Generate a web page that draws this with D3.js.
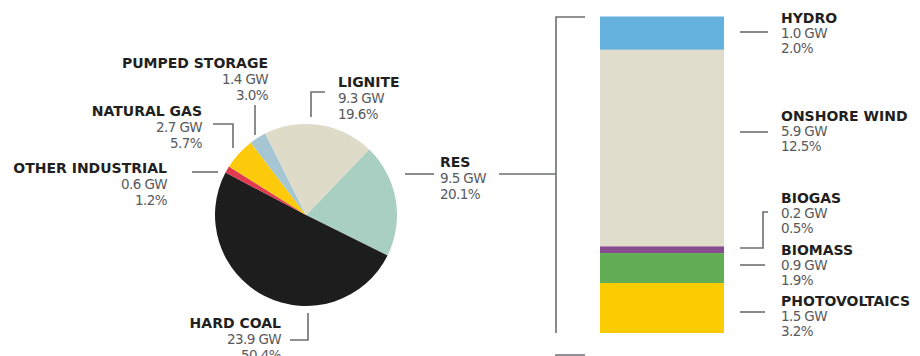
<!DOCTYPE html>
<html>
<head>
<meta charset="utf-8">
<script src="https://cdn.jsdelivr.net/npm/d3@7"></script>
<style>
  html, body { margin: 0; padding: 0; background: #fff; }
  svg { display: block; }
  .lbl { font-family: "DejaVu Sans", sans-serif; font-weight: bold; font-size: 14px; fill: #231f20; letter-spacing: 0px; }
  .val { font-family: "DejaVu Sans", sans-serif; font-size: 13.5px; fill: #58595b; letter-spacing: -0.6px; }
  .conn { fill: none; stroke: #6d6e70; stroke-width: 1.6; }
</style>
</head>
<body>
<svg id="chart" width="920" height="356"></svg>
<script>
// ---- data ----
const pieLabels = ["RES", "HARD COAL", "OTHER INDUSTRIAL", "NATURAL GAS", "PUMPED STORAGE", "LIGNITE"];
const pieGW     = [9.5, 23.9, 0.6, 2.7, 1.4, 9.3];
const piePct    = [20.1, 50.4, 1.2, 5.7, 3.0, 19.6];
const pieColors = ["#a9cfc3", "#1e1d1d", "#e23a4e", "#fdcb0b", "#a6c6d3", "#dfdbc9"];

const resLabels = ["HYDRO", "ONSHORE WIND", "BIOGAS", "BIOMASS", "PHOTOVOLTAICS"];
const resGW     = [1.0, 5.9, 0.2, 0.9, 1.5];
const resPct    = [2.0, 12.5, 0.5, 1.9, 3.2];
const resColors = ["#64b1de", "#e0ddcc", "#874d8e", "#63ae55", "#fccc02"];

// ---- layout ----
const svg = d3.select("#chart");
const cx = 306, cy = 215, R = 91;
const fmtGW = v => v.toFixed(1) + " GW";
const fmtPct = v => v.toFixed(1) + "%";

// pie
const pie = d3.pie().sort(null).value(d => d.pct)
  .startAngle(44 * Math.PI / 180).endAngle(44 * Math.PI / 180 + 2 * Math.PI);
const arc = d3.arc().innerRadius(0).outerRadius(R);
const pieData = pieLabels.map((l, i) => ({label: l, gw: pieGW[i], pct: piePct[i], color: pieColors[i]}));
svg.append("g").attr("transform", `translate(${cx},${cy})`)
  .selectAll("path").data(pie(pieData)).join("path")
  .attr("d", arc).attr("fill", d => d.data.color);

// pie labels: anchor x, first baseline y, text-anchor, connector path
const pieLayout = {
  "RES":              {x: 440, y: 167, anchor: "start", conn: [[[405,174],[434,174]], [[499,174],[556,174]]]},
  "HARD COAL":        {x: 281, y: 328, anchor: "end",   conn: [[[290,340],[308,340],[308,313]]]},
  "OTHER INDUSTRIAL": {x: 167, y: 173, anchor: "end",   conn: [[[192,172],[218,172]]]},
  "NATURAL GAS":      {x: 202, y: 116, anchor: "end",   conn: [[[213,124],[233,124],[233,148]]]},
  "PUMPED STORAGE":   {x: 268, y: 68,  anchor: "end",   conn: [[[255,105],[255,135]]]},
  "LIGNITE":          {x: 338, y: 87,  anchor: "start", conn: [[[325,92],[311,92],[311,117]]]}
};
const line = d3.line();
pieData.forEach(d => {
  const L = pieLayout[d.label];
  const g = svg.append("g");
  L.conn.forEach(p => g.append("path").attr("class", "conn").attr("d", line(p)));
  const t = g.append("text").attr("text-anchor", L.anchor);
  t.append("tspan").attr("class", "lbl").attr("x", L.x).attr("y", L.y).text(d.label);
  t.append("tspan").attr("class", "val").attr("x", L.x).attr("y", L.y + 16).text(fmtGW(d.gw));
  t.append("tspan").attr("class", "val").attr("x", L.x).attr("y", L.y + 32).text(fmtPct(d.pct));
});

// stacked RES bar
const total = d3.sum(resGW);
const y = d3.scaleLinear().domain([0, total]).range([16.5, 333]);
const x0 = 600, bw = 124;
let acc = 0;
const stack = resGW.map((v, i) => { const s = {label: resLabels[i], gw: v, pct: resPct[i], color: resColors[i], y0: acc, y1: acc + v}; acc += v; return s; });
svg.append("g").selectAll("rect").data(stack).join("rect")
  .attr("x", x0).attr("width", bw)
  .attr("y", d => y(d.y0)).attr("height", d => y(d.y1) - y(d.y0))
  .attr("fill", d => d.color);

// bracket
svg.append("path").attr("class", "conn").attr("d", line([[585,17],[556,17],[556,333]]));
svg.append("path").attr("class", "conn").attr("d", line([[585,355],[556,355],[556,360]]));

const resLayout = {
  "HYDRO":         {y: 23,  conn: [[[740,32],[768,32]]]},
  "ONSHORE WIND":  {y: 121, conn: [[[740,132],[768,132]]]},
  "BIOGAS":        {y: 203, conn: [[[768,212],[763,212],[763,248],[740,248]]]},
  "BIOMASS":       {y: 255, conn: [[[740,265],[765,265]]]},
  "PHOTOVOLTAICS": {y: 306, conn: [[[740,312],[765,312]]]}
};
stack.forEach(d => {
  const L = resLayout[d.label];
  const g = svg.append("g");
  L.conn.forEach(p => g.append("path").attr("class", "conn").attr("d", line(p)));
  const t = g.append("text");
  t.append("tspan").attr("class", "lbl").attr("x", 781).attr("y", L.y).text(d.label);
  t.append("tspan").attr("class", "val").attr("x", 781).attr("y", L.y + 15).text(fmtGW(d.gw));
  t.append("tspan").attr("class", "val").attr("x", 781).attr("y", L.y + 30).text(fmtPct(d.pct));
});
</script>
</body>
</html>
